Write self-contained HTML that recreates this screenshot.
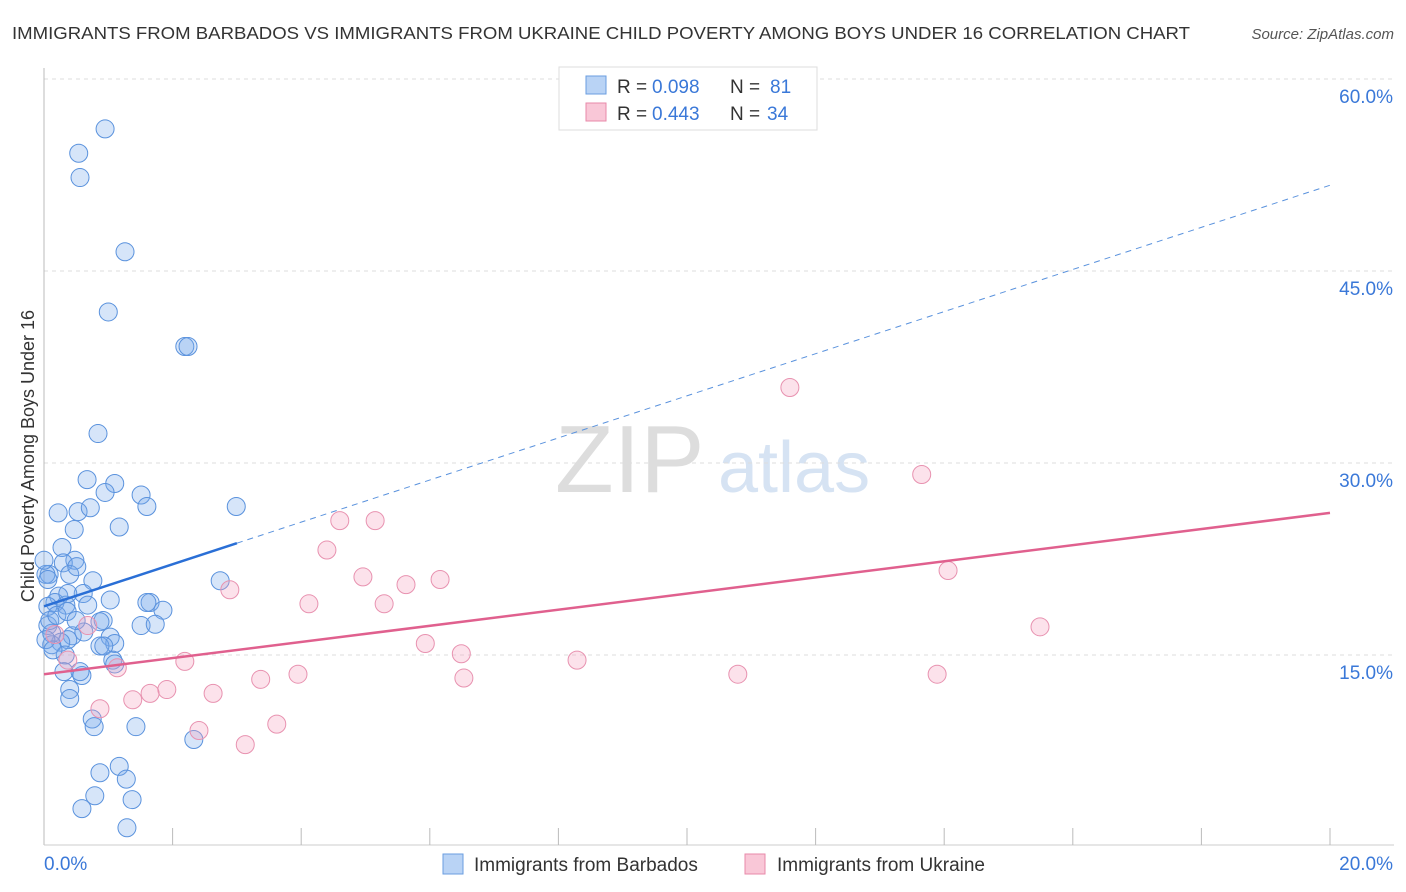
<!DOCTYPE html>
<html><head><meta charset="utf-8"><style>
body{margin:0;background:#fff;font-family:"Liberation Sans",sans-serif}
#wrap{position:relative;width:1406px;height:892px;overflow:hidden}
svg text{font-family:"Liberation Sans",sans-serif}
</style></head><body>
<div id="wrap">
<svg id="svg" width="1406" height="892">
<text x="12" y="39" font-size="17.5" fill="#333" textLength="1178" lengthAdjust="spacingAndGlyphs">IMMIGRANTS FROM BARBADOS VS IMMIGRANTS FROM UKRAINE CHILD POVERTY AMONG BOYS UNDER 16 CORRELATION CHART</text>
<text x="1394" y="39" font-size="15" fill="#555" font-style="italic" text-anchor="end">Source: ZipAtlas.com</text>
<text x="555" y="492" font-size="96" fill="#ddd" font-family="Liberation Serif">ZIP</text>
<text x="718" y="492" font-size="72" fill="#d6e3f3">atlas</text>
<text transform="translate(34,456) rotate(-90)" font-size="18" fill="#333" text-anchor="middle">Child Poverty Among Boys Under 16</text>
<g id="grid"></g><g id="marks"></g>
<g>
<rect x="559" y="67" width="258" height="63" fill="#fff" stroke="#ddd"/>
<rect x="586" y="76" width="20" height="18" fill="#b9d3f5" stroke="#6a9ee0"/>
<rect x="586" y="103" width="20" height="18" fill="#f9c7d7" stroke="#e88aaa"/>
<text x="617" y="93" font-size="19" fill="#333">R = </text><text x="652" y="93" font-size="19" fill="#3a78d8">0.098</text>
<text x="730" y="93" font-size="19" fill="#333">N = </text><text x="770" y="93" font-size="19" fill="#3a78d8">81</text>
<text x="617" y="120" font-size="19" fill="#333">R = </text><text x="652" y="120" font-size="19" fill="#3a78d8">0.443</text>
<text x="730" y="120" font-size="19" fill="#333">N = </text><text x="767" y="120" font-size="19" fill="#3a78d8">34</text>
</g>
<g>
<rect x="443" y="854" width="20" height="20" fill="#b9d3f5" stroke="#6a9ee0"/>
<text x="474" y="871" font-size="19" fill="#333">Immigrants from Barbados</text>
<rect x="745" y="854" width="20" height="20" fill="#f9c7d7" stroke="#e88aaa"/>
<text x="777" y="871" font-size="19" fill="#333">Immigrants from Ukraine</text>
</g>
</svg></div>
<script>
const yTicks=[15,30,45,60];
const yTickLabels=["15.0%","30.0%","45.0%","60.0%"];
const xTickLabels=["0.0%","20.0%"];
const barbadosX=[0.95,0.54,0.56,1.26,1.00,2.19,2.24,0.84,0.67,1.10,0.95,1.51,1.60,2.99,0.22,0.53,0.72,1.17,0.47,0.28,0.48,0.30,0.08,0.40,0.51,0.76,2.74,0.61,0.23,0.17,0.06,0.34,1.65,1.60,1.85,0.92,0.87,1.51,1.73,0.06,0.12,0.44,0.37,0.26,1.03,1.10,0.87,0.93,0.12,0.33,1.07,1.10,0.31,0.59,0.56,0.40,0.40,0.75,0.78,1.43,2.33,1.17,0.87,1.28,0.79,1.37,0.59,1.29,0.03,0.06,0.03,0.09,0.20,0.36,0.62,0.37,0.00,0.14,0.68,0.50,1.03];
const barbadosY=[56.1,54.2,52.3,46.5,41.8,39.1,39.1,32.3,28.7,28.4,27.7,27.5,26.6,26.6,26.1,26.2,26.5,25.0,24.8,23.4,22.4,22.2,21.3,21.3,21.9,20.8,20.8,19.8,19.6,19.1,18.8,18.9,19.1,19.1,18.5,17.7,17.6,17.3,17.4,17.3,16.7,16.5,16.2,16.0,16.4,15.9,15.7,15.7,15.8,15.0,14.6,14.3,13.7,13.4,13.7,12.3,11.6,10.0,9.4,9.4,8.4,6.3,5.8,5.3,4.0,3.7,3.0,1.5,21.3,20.9,16.2,17.7,18.1,18.4,16.8,19.8,22.4,15.4,18.9,17.7,19.3];
const ukraineX=[11.60,13.65,4.60,5.15,4.40,4.96,5.63,6.16,14.06,2.89,4.12,5.29,15.49,5.93,0.68,6.49,8.29,2.19,1.14,6.53,10.79,13.89,3.37,3.95,1.91,1.65,2.63,1.38,0.87,2.41,3.62,3.13,0.37,0.17];
const ukraineY=[35.9,29.1,25.5,25.5,23.2,21.1,20.5,20.9,21.6,20.1,19.0,19.0,17.2,15.9,17.3,15.1,14.6,14.5,14.0,13.2,13.5,13.5,13.1,13.5,12.3,12.0,12.0,11.5,10.8,9.1,9.6,8.0,14.6,16.6];
const barbadosTrend=[18.8,51.7];
const ukraineTrend=[13.5,26.1];
const NS="http://www.w3.org/2000/svg";
const X0=44,X1=1330,Y0=847;
function sx(v){return X0+(X1-X0)*v/20;}
function sy(v){return Y0-v*12.8;}
function mk(t,a,p){const e=document.createElementNS(NS,t);for(const k in a)e.setAttribute(k,a[k]);p.appendChild(e);return e;}
const grid=document.getElementById('grid'),marks=document.getElementById('marks');
yTicks.forEach((t,i)=>{
 const l=mk('line',{x1:X0,x2:1394,y1:sy(t),y2:sy(t),stroke:'#ddd','stroke-dasharray':'4,4'},grid);
 
 
 const tx=mk('text',{x:1393,y:sy(t)+24,'font-size':19,fill:'#3a78d8','text-anchor':'end'},grid);
 tx.textContent=yTickLabels[i];
 
 
});
const ax=mk('line',{x1:X0,x2:X0,y1:68,y2:845,stroke:'#bbb'},grid);


const bx=mk('line',{x1:X0,x2:1394,y1:845,y2:845,stroke:'#ccc'},grid);


for(let i=1;i<=10;i++){
 const t=mk('line',{x1:sx(i*2),x2:sx(i*2),y1:828,y2:845,stroke:'#bbb'},grid);
 
 
}
[[0,'start',44],[1,'end',1393]].forEach(([i,a,x])=>{
 const t=mk('text',{x:x,y:870,'font-size':19,fill:'#3a78d8','text-anchor':a},grid);
 t.textContent=xTickLabels[i];
 
 
});
barbadosX.forEach((v,i)=>{
 const c=mk('circle',{cx:sx(v),cy:sy(barbadosY[i]),r:9,fill:'rgba(120,170,235,0.3)',stroke:'#5a92dd','stroke-width':1},marks);
 
 
});
ukraineX.forEach((v,i)=>{
 const c=mk('circle',{cx:sx(v),cy:sy(ukraineY[i]),r:9,fill:'rgba(245,160,190,0.3)',stroke:'#e892b0','stroke-width':1},marks);
 
 
});
const bt=v=>barbadosTrend[0]+(barbadosTrend[1]-barbadosTrend[0])*v/20;
const l1=mk('line',{x1:sx(0),y1:sy(bt(0)),x2:sx(3),y2:sy(bt(3)),stroke:'#2a6fd6','stroke-width':2.5},marks);


const l2=mk('line',{x1:sx(3),y1:sy(bt(3)),x2:sx(20),y2:sy(bt(20)),stroke:'#5a92dd','stroke-width':1,'stroke-dasharray':'6,5'},marks);


const l3=mk('line',{x1:sx(0),y1:sy(ukraineTrend[0]),x2:sx(20),y2:sy(ukraineTrend[1]),stroke:'#e0608e','stroke-width':2.5},marks);


</script>
</body></html>
